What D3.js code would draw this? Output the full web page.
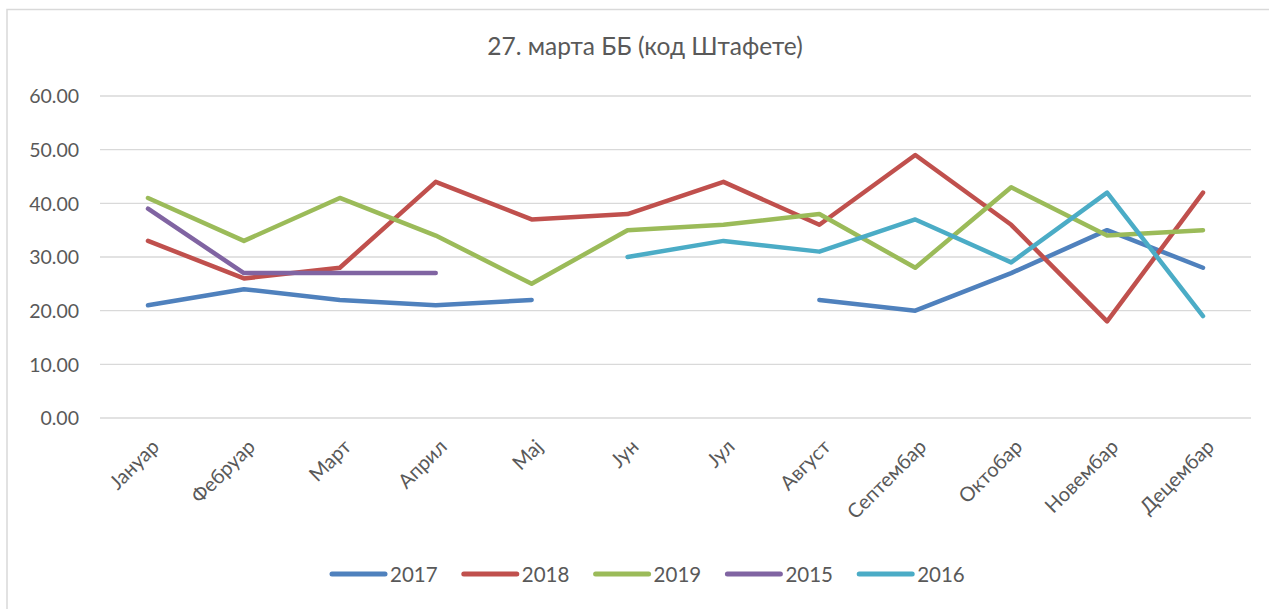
<!DOCTYPE html>
<html lang="sr">
<head>
<meta charset="utf-8"/>
<title>27. марта ББ (код Штафете)</title>
<script src="https://d3js.org/d3.v7.min.js"></script>
<style>
  body { margin: 0; background: #fff; }
  text { font-family: Lato, "Open Sans", sans-serif; fill: #595959; }
</style>
</head>
<body>
<script>
// chart data
var months = ["Јануар", "Фебруар", "Март", "Април", "Мај", "Јун", "Јул", "Август", "Септембар", "Октобар", "Новембар", "Децембар"];
var years = ["2017", "2018", "2019", "2015", "2016"];
var v2017 = [21, 24, 22, 21, 22, null, null, 22, 20, 27, 35, 28];
var v2018 = [33, 26, 28, 44, 37, 38, 44, 36, 49, 36, 18, 42];
var v2019 = [41, 33, 41, 34, 25, 35, 36, 38, 28, 43, 34, 35];
var v2015 = [39, 27, 27, 27, null, null, null, null, null, null, null, null];
var v2016 = [null, null, null, null, null, 30, 33, 31, 37, 29, 42, 19];
var yTicks = [0, 10, 20, 30, 40, 50, 60];

var series = [v2017, v2018, v2019, v2015, v2016];
var colors = ["#4F81BD", "#C0504D", "#9BBB59", "#8064A2", "#4BACC6"];

var w = 1269, h = 609;

var svg = d3.select("body").append("svg")
    .attr("width", w)
    .attr("height", h);

// chart frame (left and top edges only visible)
svg.append("rect")
    .attr("x", 7).attr("y", 9.5)
    .attr("width", 1300).attr("height", 700)
    .attr("fill", "none")
    .attr("stroke", "#d9d9d9")
    .attr("stroke-width", 1.5);

// title
svg.append("text")
    .attr("x", 645).attr("y", 55)
    .attr("text-anchor", "middle")
    .style("font-size", "24.5px")
    .text("27. марта ББ (код Штафете)");

var xScale = d3.scalePoint()
    .domain(months)
    .range([148, 1203]);

var yScale = d3.scaleLinear()
    .domain([0, 60])
    .range([418, 96]);

// gridlines
svg.append("g")
    .selectAll("line")
    .data(yTicks)
    .enter()
    .append("line")
    .attr("x1", 100).attr("x2", 1251)
    .attr("y1", function(d) { return yScale(d); })
    .attr("y2", function(d) { return yScale(d); })
    .attr("stroke", "#d9d9d9")
    .attr("stroke-width", 1.3);

// y axis labels
var yAxis = svg.append("g")
    .attr("transform", "translate(79,0)")
    .call(d3.axisLeft(yScale).tickValues(yTicks).tickSize(0).tickPadding(0)
        .tickFormat(d3.format(".2f")));
yAxis.select(".domain").remove();
yAxis.selectAll("text")
    .style("font-size", "19.5px")
    .style("font-family", "Lato, sans-serif")
    .attr("fill", "#595959")
    .attr("dy", "0.35em");

// x axis labels (rotated)
var xAxis = svg.append("g")
    .attr("transform", "translate(0,418)")
    .call(d3.axisBottom(xScale).tickSize(0).tickPadding(0));
xAxis.select(".domain").remove();
xAxis.selectAll("text")
    .style("font-size", "20px")
    .style("font-family", "Lato, sans-serif")
    .attr("fill", "#595959")
    .attr("text-anchor", "end")
    .attr("dy", null)
    .attr("y", 0)
    .attr("transform", "translate(12,30) rotate(-45)");

// lines
var line = d3.line()
    .defined(function(d) { return d != null; })
    .x(function(d, i) { return xScale(months[i]); })
    .y(function(d) { return yScale(d); });

svg.append("g")
    .selectAll("path")
    .data(series)
    .enter()
    .append("path")
    .attr("d", line)
    .attr("fill", "none")
    .attr("stroke", function(d, i) { return colors[i]; })
    .attr("stroke-width", 4.5)
    .attr("stroke-linecap", "round")
    .attr("stroke-linejoin", "round");

// legend
var legend = svg.append("g")
    .selectAll("g")
    .data(years)
    .enter()
    .append("g")
    .attr("transform", function(d, i) { return "translate(" + (332 + i * 131.8) + ",574)"; });

legend.append("line")
    .attr("x1", 0).attr("x2", 53)
    .attr("stroke", function(d, i) { return colors[i]; })
    .attr("stroke-width", 5)
    .attr("stroke-linecap", "round");

legend.append("text")
    .attr("x", 58).attr("y", 7.5)
    .style("font-size", "20.5px")
    .text(function(d) { return d; });
</script>
</body>
</html>
